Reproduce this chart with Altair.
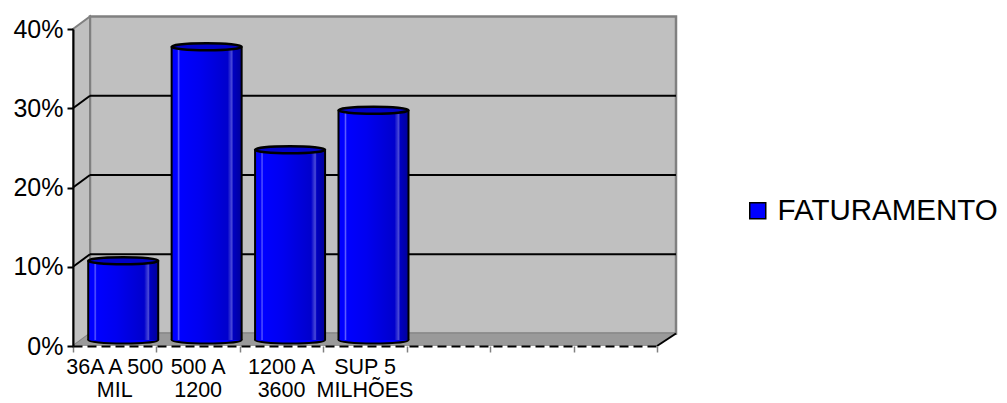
import altair as alt
import pandas as pd

# ---- data ----
categories = ["36A A 500\nMIL", "500 A\n1200", "1200 A\n3600", "SUP 5\nMILHÕES"]
values = [10, 37, 24, 29]          # percent
series_name = "FATURAMENTO"
n_slots = 7                        # category slots on the axis (4 used)
y_ticks = [0, 10, 20, 30, 40]
grid_values = [10, 20, 30]
y_max = 40

# ---- layout / style constants ----
W, H = 584, 317
LEFT, TOP = 73, 29
DX, DX_R, DY = 17, 19, 12.5       # depth offsets of the back wall (px)
BW = 70                            # cylinder width (px)
BASE = 6                           # cylinder base lift (px)
FONT = "Liberation Sans"

slot_px = W / n_slots
dxu = DX / slot_px
dxu_r = DX_R / slot_px
dyu = DY / (H / y_max)
bwu = BW / slot_px

xs = alt.Scale(domain=[0, n_slots], nice=False, zero=False)
ys = alt.Scale(domain=[0, y_max], nice=False, zero=False)

ELLIPSE = "M -1 0 A 1 0.1 0 1 1 1 0 A 1 0.1 0 1 1 -1 0 Z"

# ---- frames ----
wall_df = pd.DataFrame({"x0": [0], "x1": [n_slots], "y0": [0], "y1": [y_max]})
side_df = pd.DataFrame({"x": [0, dxu], "lo": [0, dyu], "hi": [y_max, y_max + dyu]})
floor_df = pd.DataFrame({"x": [0, dxu, n_slots, n_slots + dxu_r],
                         "lo": [0, 0, 0, dyu], "hi": [0, dyu, dyu, dyu]})
grid_df = pd.DataFrame({"v": grid_values})
bars_df = pd.DataFrame({"cat": categories, "value": values,
                        "idx": list(range(len(categories))),
                        "serie": [series_name] * len(categories)})

y_axis = alt.Axis(values=y_ticks, labelExpr="datum.value + '%'", title=None, grid=False,
                  domainColor="black", domainWidth=2, tickColor="black", tickWidth=2,
                  tickSize=6, labelFontSize=25, labelFont=FONT, labelColor="black",
                  labelPadding=4, zindex=1)
x_axis = alt.Axis(values=list(range(n_slots + 1)), labels=False, title=None, grid=False,
                  domainColor="black", domainWidth=2, domainDash=[9, 5],
                  tickColor="#808080", tickWidth=1.5, tickSize=6, zindex=1)


def X(field):
    return alt.X(field, scale=xs, axis=x_axis)


def Y(field):
    return alt.Y(field, scale=ys, axis=y_axis)


back_wall = alt.Chart(wall_df).mark_rect(
    fill="#C0C0C0", stroke="#808080", strokeWidth=2.5,
    xOffset=DX, x2Offset=DX_R, yOffset=-DY, y2Offset=-DY
).encode(x=X("x0:Q"), x2="x1:Q", y=Y("y0:Q"), y2="y1:Q")

side_wall = alt.Chart(side_df).mark_area(
    fill="#C0C0C0", stroke="#808080", strokeWidth=2, opacity=1
).encode(x=X("x:Q"), y=Y("lo:Q"), y2="hi:Q")

floor = alt.Chart(floor_df).mark_area(fill="#9A9A9A", opacity=1).encode(
    x=X("x:Q"), y=Y("lo:Q"), y2="hi:Q")

grid_back = alt.Chart(grid_df).transform_calculate(
    a="0", b=str(n_slots)
).mark_rule(
    color="black", strokeWidth=2, xOffset=DX, x2Offset=DX_R, yOffset=-DY, y2Offset=-DY
).encode(x=X("a:Q"), x2="b:Q", y=Y("v:Q"), y2="v:Q")

grid_side = alt.Chart(grid_df).transform_calculate(a="0").mark_rule(
    color="black", strokeWidth=2, x2Offset=DX, y2Offset=-DY
).encode(x=X("a:Q"), x2="a:Q", y=Y("v:Q"), y2="v:Q")

floor_edge = alt.Chart(wall_df).mark_rule(
    color="black", strokeWidth=2, x2Offset=DX_R, y2Offset=-DY
).encode(x=X("x1:Q"), x2="x1:Q", y=Y("y0:Q"), y2="y0:Q")

base = alt.Chart(bars_df).transform_calculate(
    xc="datum.idx + 0.5",
    xl=f"datum.idx + 0.5 - {bwu / 2}",
    xr=f"datum.idx + 0.5 + {bwu / 2}",
    zero="0",
)

legend = alt.Legend(title=None, orient="none", legendX=670, legendY=167,
                    symbolType="square", symbolSize=256, symbolStrokeColor="black",
                    symbolStrokeWidth=1.5, symbolOpacity=1, labelFontSize=29.5,
                    labelFont=FONT, labelColor="black", labelOffset=5, labelLimit=0,
                    padding=0)

bottom_ell = base.mark_point(
    shape=ELLIPSE, size=BW * BW, filled=True, stroke="black", strokeWidth=2,
    opacity=1, xOffset=DX / 2, yOffset=-BASE
).encode(
    x=X("xc:Q"), y=Y("zero:Q"),
    fill=alt.Fill("serie:N", scale=alt.Scale(range=["#0000FF"]), legend=legend),
)

body_grad = alt.Gradient(
    gradient="linear", x1=0, x2=1, y1=0, y2=0,
    stops=[
        alt.GradientStop(color="#0000FF", offset=0),
        alt.GradientStop(color="#0000FF", offset=0.08),
        alt.GradientStop(color="#5a5aff", offset=0.10),
        alt.GradientStop(color="#0000FF", offset=0.12),
        alt.GradientStop(color="#0000F0", offset=0.40),
        alt.GradientStop(color="#0000CC", offset=0.80),
        alt.GradientStop(color="#4a4ad8", offset=0.86),
        alt.GradientStop(color="#0000C0", offset=0.88),
        alt.GradientStop(color="#00009C", offset=1),
    ],
)

body = base.mark_rect(
    fill=body_grad, xOffset=DX / 2, x2Offset=DX / 2, yOffset=-BASE, y2Offset=-BASE
).encode(x=X("xl:Q"), x2="xr:Q", y=Y("value:Q"), y2="zero:Q")

edge_l = base.mark_rule(
    color="black", strokeWidth=2, xOffset=DX / 2, yOffset=-BASE, y2Offset=-BASE
).encode(x=X("xl:Q"), y=Y("value:Q"), y2="zero:Q")
edge_r = base.mark_rule(
    color="black", strokeWidth=2, xOffset=DX / 2, yOffset=-BASE, y2Offset=-BASE
).encode(x=X("xr:Q"), y=Y("value:Q"), y2="zero:Q")

top_ell = base.mark_point(
    shape=ELLIPSE, size=BW * BW, filled=True, fill="#0000C8", stroke="black",
    strokeWidth=2.5, opacity=1, xOffset=DX / 2, yOffset=-BASE
).encode(x=X("xc:Q"), y=Y("value:Q"))

labels = base.mark_text(
    lineBreak="\n", fontSize=21.5, font=FONT, color="black", baseline="top",
    align="center", dy=11, lineHeight=22.5
).encode(x=X("xc:Q"), y=Y("zero:Q"), text="cat:N")

chart = alt.layer(
    back_wall, side_wall, floor, grid_back, grid_side, floor_edge,
    bottom_ell, body, edge_l, edge_r, top_ell, labels
).properties(
    width=W, height=H,
    autosize=alt.AutoSizeParams(type="none"),
    padding={"left": LEFT, "top": TOP, "right": 1007 - LEFT - W, "bottom": 403 - TOP - H},
    background="white",
).configure_view(strokeWidth=0)

chart.save("out.html", embed_options={"renderer": "svg", "actions": False})
